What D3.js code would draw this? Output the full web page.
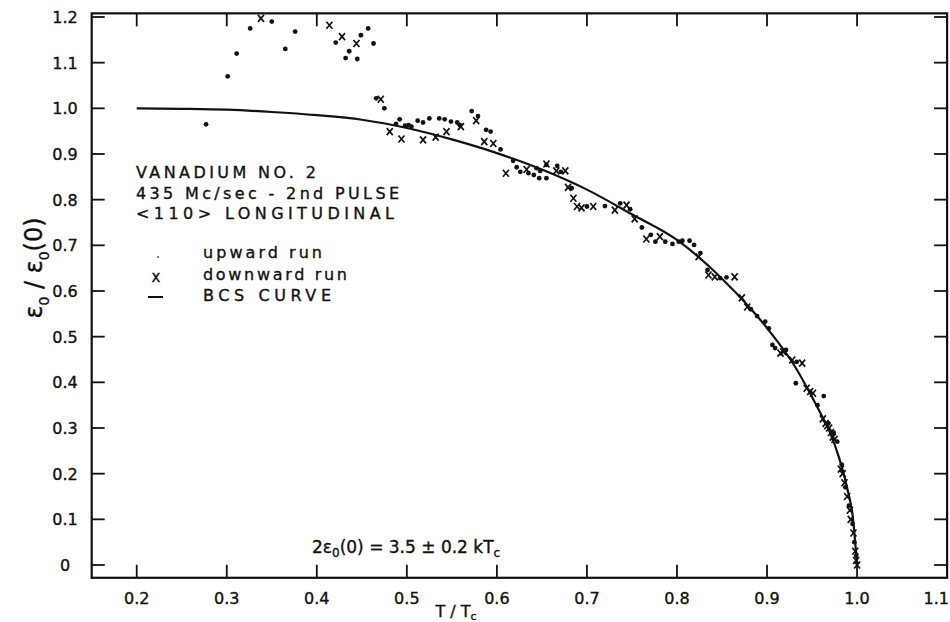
<!DOCTYPE html>
<html>
<head>
<meta charset="utf-8">
<script src="https://cdn.jsdelivr.net/npm/d3@7"></script>
<style>
  html, body { margin: 0; padding: 0; background: #fff; }
  svg { display: block; }
  text { font-family: "DejaVu Sans", "Liberation Sans", sans-serif; fill: #111; stroke: #111; stroke-width: 0.35; }
</style>
</head>
<body>
<div id="chart"></div>
<script>
// ---------------- data ----------------
const xTicks = [0.2, 0.3, 0.4, 0.5, 0.6, 0.7, 0.8, 0.9, 1.0];
const xTickLabels = ["0.2", "0.3", "0.4", "0.5", "0.6", "0.7", "0.8", "0.9", "1.0", "1.1"];
const xLabelValues = [0.2, 0.3, 0.4, 0.5, 0.6, 0.7, 0.8, 0.9, 1.0, 1.1];
const yTicks = [0, 0.1, 0.2, 0.3, 0.4, 0.5, 0.6, 0.7, 0.8, 0.9, 1.0, 1.1, 1.2];
const yTickLabels = ["0", "0.1", "0.2", "0.3", "0.4", "0.5", "0.6", "0.7", "0.8", "0.9", "1.0", "1.1", "1.2"];

// BCS curve: [T/Tc, eps/eps(0)]
const bcsT = [0.20, 0.25, 0.30, 0.35, 0.40, 0.45, 0.50, 0.55, 0.60, 0.65, 0.70, 0.75, 0.80, 0.85, 0.90, 0.93, 0.95, 0.96, 0.97, 0.98, 0.99, 0.995, 1.00];
const bcsV = [1.000, 0.999, 0.997, 0.992, 0.985, 0.975, 0.957, 0.932, 0.902, 0.866, 0.822, 0.768, 0.712, 0.627, 0.519, 0.438, 0.368, 0.330, 0.290, 0.235, 0.160, 0.110, 0.000];

// upward run (dots)
const upT = [0.301, 0.311, 0.326, 0.350, 0.365, 0.376, 0.421, 0.436, 0.432, 0.445, 0.449, 0.457, 0.463, 0.466, 0.475, 0.277,
  0.488, 0.492, 0.498, 0.502, 0.505, 0.512, 0.518, 0.525, 0.536, 0.542, 0.549, 0.556, 0.559,
  0.572, 0.579, 0.588, 0.593, 0.604,
  0.618, 0.622, 0.626, 0.635, 0.641, 0.644, 0.648, 0.655, 0.647, 0.655, 0.667, 0.671, 0.683,
  0.700, 0.720, 0.737, 0.748,
  0.761, 0.771, 0.776, 0.787, 0.795, 0.802, 0.806, 0.814, 0.819, 0.826, 0.834, 0.848, 0.855,
  0.882, 0.889, 0.898, 0.902, 0.906, 0.909, 0.921, 0.933, 0.932, 0.963,
  0.956, 0.968, 0.974, 0.978, 0.983, 0.987, 0.991, 0.995, 0.997, 0.999];
const upV = [1.070, 1.120, 1.175, 1.190, 1.130, 1.168, 1.144, 1.125, 1.110, 1.108, 1.160, 1.175, 1.142, 1.022, 1.000, 0.965,
  0.966, 0.976, 0.962, 0.963, 0.960, 0.973, 0.969, 0.978, 0.978, 0.976, 0.971, 0.969, 0.963,
  0.994, 0.983, 0.953, 0.949, 0.910,
  0.885, 0.871, 0.861, 0.858, 0.854, 0.869, 0.863, 0.876, 0.847, 0.847, 0.874, 0.861, 0.825,
  0.785, 0.786, 0.792, 0.779,
  0.739, 0.723, 0.708, 0.708, 0.703, 0.708, 0.710, 0.710, 0.701, 0.683, 0.646, 0.628, 0.630,
  0.560, 0.545, 0.533, 0.518, 0.482, 0.475, 0.471, 0.445, 0.398, 0.370,
  0.350, 0.310, 0.290, 0.270, 0.220, 0.170, 0.130, 0.090, 0.050, 0.020];

// downward run (x marks)
const downT = [0.338, 0.414, 0.428, 0.444, 0.471,
  0.481, 0.494, 0.518, 0.532, 0.544, 0.560, 0.577, 0.586, 0.596,
  0.610, 0.633, 0.655, 0.666, 0.676, 0.679, 0.685,
  0.689, 0.694, 0.707, 0.731, 0.744,
  0.753, 0.766, 0.781, 0.824, 0.835, 0.842, 0.864,
  0.872, 0.878,
  0.915, 0.918, 0.928, 0.939, 0.944, 0.948, 0.951,
  0.962, 0.965, 0.967, 0.969, 0.971, 0.973, 0.975, 0.982, 0.984, 0.986, 0.989, 0.992, 0.993, 0.996, 0.998, 0.999, 1.000];
const downV = [1.197, 1.182, 1.157, 1.142, 1.020,
  0.949, 0.933, 0.931, 0.937, 0.949, 0.960, 0.973, 0.927, 0.923,
  0.858, 0.866, 0.878, 0.863, 0.863, 0.827, 0.803,
  0.785, 0.782, 0.785, 0.777, 0.788,
  0.758, 0.714, 0.719, 0.675, 0.635, 0.631, 0.631,
  0.585, 0.565,
  0.464, 0.467, 0.449, 0.442, 0.387, 0.380, 0.376,
  0.320, 0.310, 0.305, 0.300, 0.290, 0.280, 0.275, 0.210, 0.200, 0.180, 0.150, 0.120, 0.100, 0.070, 0.030, 0.010, 0.000];

const titleLines = ["VANADIUM NO. 2", "435 Mc/sec - 2nd PULSE", "<110> LONGITUDINAL"];
const legendLabels = ["upward run", "downward run", "BCS CURVE"];

// ---------------- drawing ----------------
const W = 950, H = 622;
const svg = d3.select("#chart").append("svg").attr("width", W).attr("height", H);
svg.append("rect").attr("width", W).attr("height", H).attr("fill", "#fff");

const xDom = [0.15, 1.1], yDom = [-0.028, 1.208];
const x = d3.scaleLinear().domain([0.15, 1.1]).range([91.7, 947.1]);
const y = d3.scaleLinear().domain([0, 1.2]).range([565, 17]);

const ink = "#111";
const fLeft = x(xDom[0]), fRight = x(xDom[1]), fTop = y(yDom[1]), fBottom = y(yDom[0]);

// frame
svg.append("rect").attr("x", fLeft).attr("y", fTop).attr("width", fRight - fLeft).attr("height", fBottom - fTop)
  .attr("fill", "none").attr("stroke", ink).attr("stroke-width", 2.2);

const tickLen = 13;
const g = svg.append("g").attr("stroke", ink).attr("stroke-width", 1.8);
yTicks.forEach(v => {
  g.append("line").attr("x1", fLeft).attr("x2", fLeft + tickLen).attr("y1", y(v)).attr("y2", y(v));
  g.append("line").attr("x1", fRight).attr("x2", fRight - tickLen).attr("y1", y(v)).attr("y2", y(v));
});
xTicks.forEach(v => {
  g.append("line").attr("x1", x(v)).attr("x2", x(v)).attr("y1", fBottom).attr("y2", fBottom - tickLen);
  g.append("line").attr("x1", x(v)).attr("x2", x(v)).attr("y1", fTop).attr("y2", fTop + tickLen);
});

// tick labels
const last = xLabelValues.length - 1;
svg.append("g").selectAll("text").data(xLabelValues).join("text")
  .attr("x", (d, i) => i === last ? 949 : x(d))
  .attr("y", 604).attr("text-anchor", (d, i) => i === last ? "end" : "middle").attr("font-size", 16)
  .text((d, i) => xTickLabels[i]);
svg.append("g").selectAll("text").data(yTicks).join("text")
  .attr("x", 65).attr("y", d => y(d) + 6).attr("text-anchor", "middle").attr("font-size", 16)
  .text((d, i) => yTickLabels[i]);

// axis titles
const xt = svg.append("text").attr("x", 456).attr("y", 617).attr("text-anchor", "middle").attr("font-size", 16);
xt.append("tspan").text("T / T");
xt.append("tspan").attr("font-size", 11).attr("dy", 3).text("c");

const yt = svg.append("text").attr("transform", "translate(42,268) rotate(-90)").attr("text-anchor", "middle").attr("font-size", 24);
yt.append("tspan").text("ε");
yt.append("tspan").attr("font-size", 14).attr("dy", 7).text("0");
yt.append("tspan").attr("dy", -7).text(" / ε");
yt.append("tspan").attr("font-size", 14).attr("dy", 7).text("0");
yt.append("tspan").attr("dy", -7).text("(0)");

// BCS curve
const curveData = bcsT.map((t, i) => ({t, v: bcsV[i]}));
svg.append("path").datum(curveData)
  .attr("d", d3.line().x(d => x(d.t)).y(d => y(d.v)).curve(d3.curveMonotoneX))
  .attr("fill", "none").attr("stroke", ink).attr("stroke-width", 2.2);

// upward dots
const upData = upT.map((t, i) => ({t, v: upV[i]}));
svg.append("g").selectAll("circle").data(upData).join("circle")
  .attr("cx", d => x(d.t)).attr("cy", d => y(d.v)).attr("r", 2.4).attr("fill", ink);

// downward x marks
const downData = downT.map((t, i) => ({t, v: downV[i]}));
const xs = 3;
svg.append("g").selectAll("path").data(downData).join("path")
  .attr("d", d => {
    const cx = x(d.t), cy = y(d.v);
    return `M${cx - xs},${cy - xs - 0.5}L${cx + xs},${cy + xs + 0.5}M${cx + xs},${cy - xs - 0.5}L${cx - xs},${cy + xs + 0.5}`;
  })
  .attr("stroke", ink).attr("stroke-width", 1.7).attr("fill", "none");

// title block
const titleWidths = [180, 263, 258];
svg.append("g").selectAll("text").data(titleLines).join("text")
  .attr("x", 136).attr("y", (d, i) => 178 + i * 20.5)
  .attr("font-size", 16)
  .attr("textLength", (d, i) => titleWidths[i]).attr("lengthAdjust", "spacing")
  .text(d => d);

// legend
const legendWidths = [119, 144, 128];
svg.append("g").selectAll("text").data(legendLabels).join("text")
  .attr("x", 203).attr("y", (d, i) => 258 + i * 21.5)
  .attr("font-size", 16)
  .attr("textLength", (d, i) => legendWidths[i]).attr("lengthAdjust", "spacing")
  .text(d => d);
svg.append("circle").attr("cx", 158).attr("cy", 257).attr("r", 1.1).attr("fill", "#666");
svg.append("text").attr("x", 156).attr("y", 282).attr("text-anchor", "middle").attr("font-size", 15).text("x");
svg.append("line").attr("x1", 148).attr("x2", 163).attr("y1", 297).attr("y2", 297).attr("stroke", ink).attr("stroke-width", 2);

// formula
const f = svg.append("text").attr("x", 312).attr("y", 553).attr("font-size", 17);
f.append("tspan").text("2ε");
f.append("tspan").attr("font-size", 12).attr("dy", 4).text("0");
f.append("tspan").attr("dy", -4).text("(0) = 3.5 ± 0.2 kT");
f.append("tspan").attr("font-size", 12).attr("dy", 4).text("c");
</script>
</body>
</html>
